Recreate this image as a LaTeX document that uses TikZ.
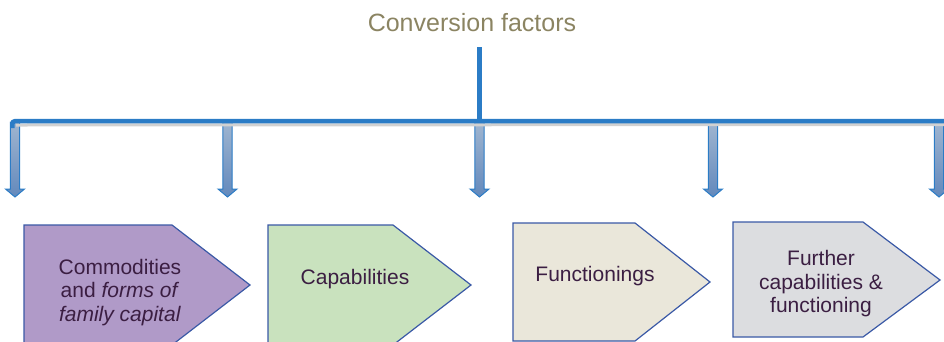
\documentclass[tikz,border=0pt]{standalone}
\usepackage{fontspec}
\setmainfont{Liberation Sans}
\usetikzlibrary{calc}
\begin{document}
\definecolor{barblue}{HTML}{2B7CC6}
\definecolor{titlecol}{HTML}{8B8462}
\definecolor{txtcol}{HTML}{3B1E42}
\definecolor{edgeblue}{HTML}{3A59A6}
\definecolor{fillA}{HTML}{B09AC8}
\definecolor{fillB}{HTML}{C9E2BE}
\definecolor{fillC}{HTML}{EAE7DA}
\definecolor{fillD}{HTML}{DCDDE0}
\definecolor{shaftTop}{HTML}{9FB5D0}
\definecolor{shaftBot}{HTML}{6389BC}
\begin{tikzpicture}[x=1pt,y=-1pt,
  bar/.style={draw=barblue,line width=4.5pt},
  shadowbar/.style={draw=black!18,line width=3pt},
  downarrow/.style={draw=barblue,line width=1pt,top color=shaftTop,bottom color=shaftBot,line join=miter},
  pentagon/.style={draw=edgeblue,line width=1.2pt,line join=miter},
  boxtext/.style={text=txtcol,font=\fontsize{21}{23.5}\selectfont,align=center,inner sep=0pt},
  title/.style={text=titlecol,font=\fontsize{25}{30}\selectfont,inner sep=0pt}]
\useasboundingbox (0,0) rectangle (944,341);
\clip (0,0) rectangle (944,341);

% heading and its stem
\node[title,anchor=base] (title) at (472,31.5) {Conversion factors};
\coordinate (stemtop) at (479.5,47);
\coordinate (hub) at (479.5,121);

% feet of the five branches on the bar
\foreach \n/\x in {a/15,b/227.5,c/479.5,d/713,e/939}{
  \coordinate (top\n) at (\x,122);
  \coordinate (tip\n) at (\x,197);
}

% down arrows
\foreach \n in {a,b,c,d,e}{
  \draw[downarrow] ($(top\n)+(-4.7,0)$) -- ($(top\n)+(4.7,0)$) -- ($(top\n)+(4.7,67)$)
    -- ($(top\n)+(9.5,67)$) -- (tip\n) -- ($(top\n)+(-9.5,67)$) -- ($(top\n)+(-4.7,67)$) -- cycle;
}

% distribution bar with its soft shadow, bending down into the first arrow
\draw[shadowbar] (16,125) -- (944,124.5);
\draw[bar,rounded corners=3pt] (12.3,128) -- (12.3,121) -- (944,121);
\draw[bar] (stemtop) -- (hub);

% pentagon boxes
\draw[pentagon,fill=fillA] (24,225) -- (172,225) -- (250,285) -- (172,345) -- (24,345) -- cycle;
\draw[pentagon,fill=fillB] (268,225) -- (393,225) -- (471,285) -- (393,345) -- (268,345) -- cycle;
\draw[pentagon,fill=fillC] (513,223) -- (635,223) -- (710,282) -- (635,341) -- (513,341) -- cycle;
\draw[pentagon,fill=fillD] (733,222) -- (863,222) -- (940,280) -- (863,337) -- (733,337) -- cycle;

% box labels
\node[boxtext] (commod) at (120,292.5) {Commodities\\and \textit{forms of}\\\textit{family capital}};
\node[boxtext] (capab) at (355,279) {Capabilities};
\node[boxtext] (funct) at (595,276) {Functionings};
\node[boxtext] (further) at (821,284) {Further\\capabilities \&\\functioning};
\end{tikzpicture}
\end{document}
